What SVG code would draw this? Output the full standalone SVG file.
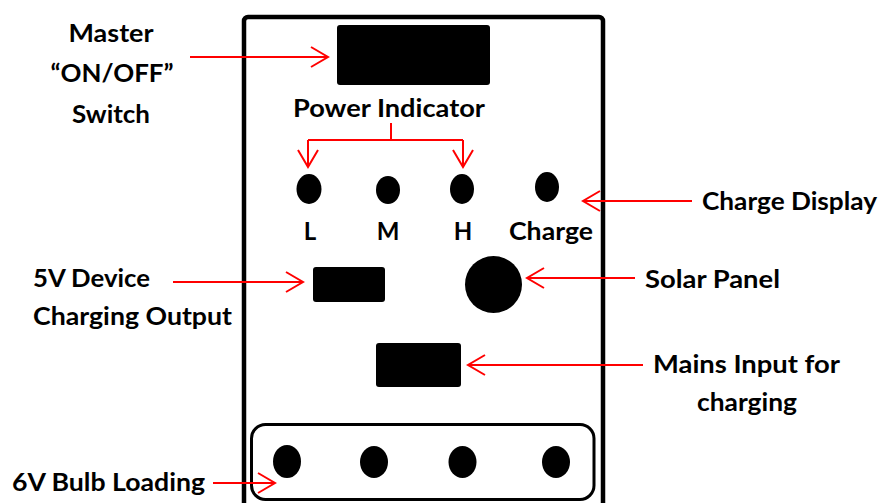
<svg xmlns="http://www.w3.org/2000/svg" width="883" height="503" viewBox="0 0 883 503">
<style>
.t{font-family:Lato,"Open Sans","Liberation Sans",sans-serif;font-weight:bold;font-size:24px;fill:#000}
.c{stroke:#ff0000;stroke-width:2;fill:none}
.blk{fill:#000}
</style>
<defs>
<marker id="ah" viewBox="-19 -12 21 24" refX="0" refY="0" markerWidth="21" markerHeight="24" markerUnits="userSpaceOnUse" orient="auto">
<path d="M-17,-10 L0,0 L-17,10" fill="none" stroke="#ff0000" stroke-width="2"/>
</marker>
</defs>
<rect width="883" height="503" fill="#fff"/>
<g id="housing">
<rect x="244" y="17" width="359" height="520" rx="4" fill="none" stroke="#000" stroke-width="4.5"/>
</g>
<g id="switch">
<rect x="337" y="25" width="153" height="60" rx="3" class="blk"/>
</g>
<g id="indicators">
<ellipse cx="309" cy="189" rx="12.5" ry="15" class="blk"/>
<ellipse cx="388" cy="190" rx="12" ry="14" class="blk"/>
<ellipse cx="462" cy="189" rx="12" ry="15" class="blk"/>
<ellipse cx="547" cy="187" rx="12" ry="15" class="blk"/>
<text class="t" x="310" y="240" text-anchor="middle">L</text>
<text class="t" x="388" y="240" text-anchor="middle">M</text>
<text class="t" x="463" y="240" text-anchor="middle">H</text>
<text class="t" x="551" y="240" text-anchor="middle" textLength="84" lengthAdjust="spacingAndGlyphs">Charge</text>
</g>
<g id="usb-output">
<rect x="313" y="267" width="72" height="35" rx="3" class="blk"/>
</g>
<g id="solar-panel">
<circle cx="493.5" cy="284.5" r="28.5" class="blk"/>
</g>
<g id="mains-input">
<rect x="376" y="343" width="85" height="44" rx="3" class="blk"/>
</g>
<g id="bulb-panel">
<rect x="251.5" y="424.5" width="342.5" height="75" rx="14" fill="none" stroke="#000" stroke-width="3"/>
<ellipse cx="287" cy="461.5" rx="14" ry="16.5" class="blk"/>
<ellipse cx="374" cy="462" rx="14" ry="16" class="blk"/>
<ellipse cx="462.5" cy="462" rx="14" ry="16" class="blk"/>
<ellipse cx="556" cy="462" rx="14" ry="16" class="blk"/>
</g>
<g id="label-master">
<text class="t" x="111" y="42" text-anchor="middle" textLength="85" lengthAdjust="spacingAndGlyphs">Master</text>
<text class="t" x="112" y="82" text-anchor="middle" textLength="123" lengthAdjust="spacingAndGlyphs">“ON/OFF”</text>
<text class="t" x="111" y="123" text-anchor="middle" textLength="78" lengthAdjust="spacingAndGlyphs">Switch</text>
</g>
<g id="label-power">
<text class="t" x="293" y="117" textLength="192" lengthAdjust="spacingAndGlyphs">Power Indicator</text>
</g>
<g id="label-charge-display">
<text class="t" x="702" y="210" textLength="175" lengthAdjust="spacingAndGlyphs">Charge Display</text>
</g>
<g id="label-solar">
<text class="t" x="645" y="288" textLength="135" lengthAdjust="spacingAndGlyphs">Solar Panel</text>
</g>
<g id="label-5v">
<text class="t" x="33" y="287" textLength="117" lengthAdjust="spacingAndGlyphs">5V Device</text>
<text class="t" x="33" y="325" textLength="199" lengthAdjust="spacingAndGlyphs">Charging Output</text>
</g>
<g id="label-mains">
<text class="t" x="653" y="373" textLength="187" lengthAdjust="spacingAndGlyphs">Mains Input for</text>
<text class="t" x="697" y="411" textLength="100" lengthAdjust="spacingAndGlyphs">charging</text>
</g>
<g id="label-bulb">
<text class="t" x="12" y="491" textLength="193" lengthAdjust="spacingAndGlyphs">6V Bulb Loading</text>
</g>
<g id="connectors">
<path class="c" d="M190,57 L328,57" marker-end="url(#ah)"/>
<path class="c" d="M391,123 L391,140 M308,140 L463,140"/>
<path class="c" d="M308,140 L308,167" marker-end="url(#ah)"/>
<path class="c" d="M463,140 L463,167" marker-end="url(#ah)"/>
<path class="c" d="M692,201 L583,201" marker-end="url(#ah)"/>
<path class="c" d="M635,278 L527,278" marker-end="url(#ah)"/>
<path class="c" d="M173,282 L303,282" marker-end="url(#ah)"/>
<path class="c" d="M643,365 L468,365" marker-end="url(#ah)"/>
<path class="c" d="M213,483 L275,483" marker-end="url(#ah)"/>
</g>
</svg>
